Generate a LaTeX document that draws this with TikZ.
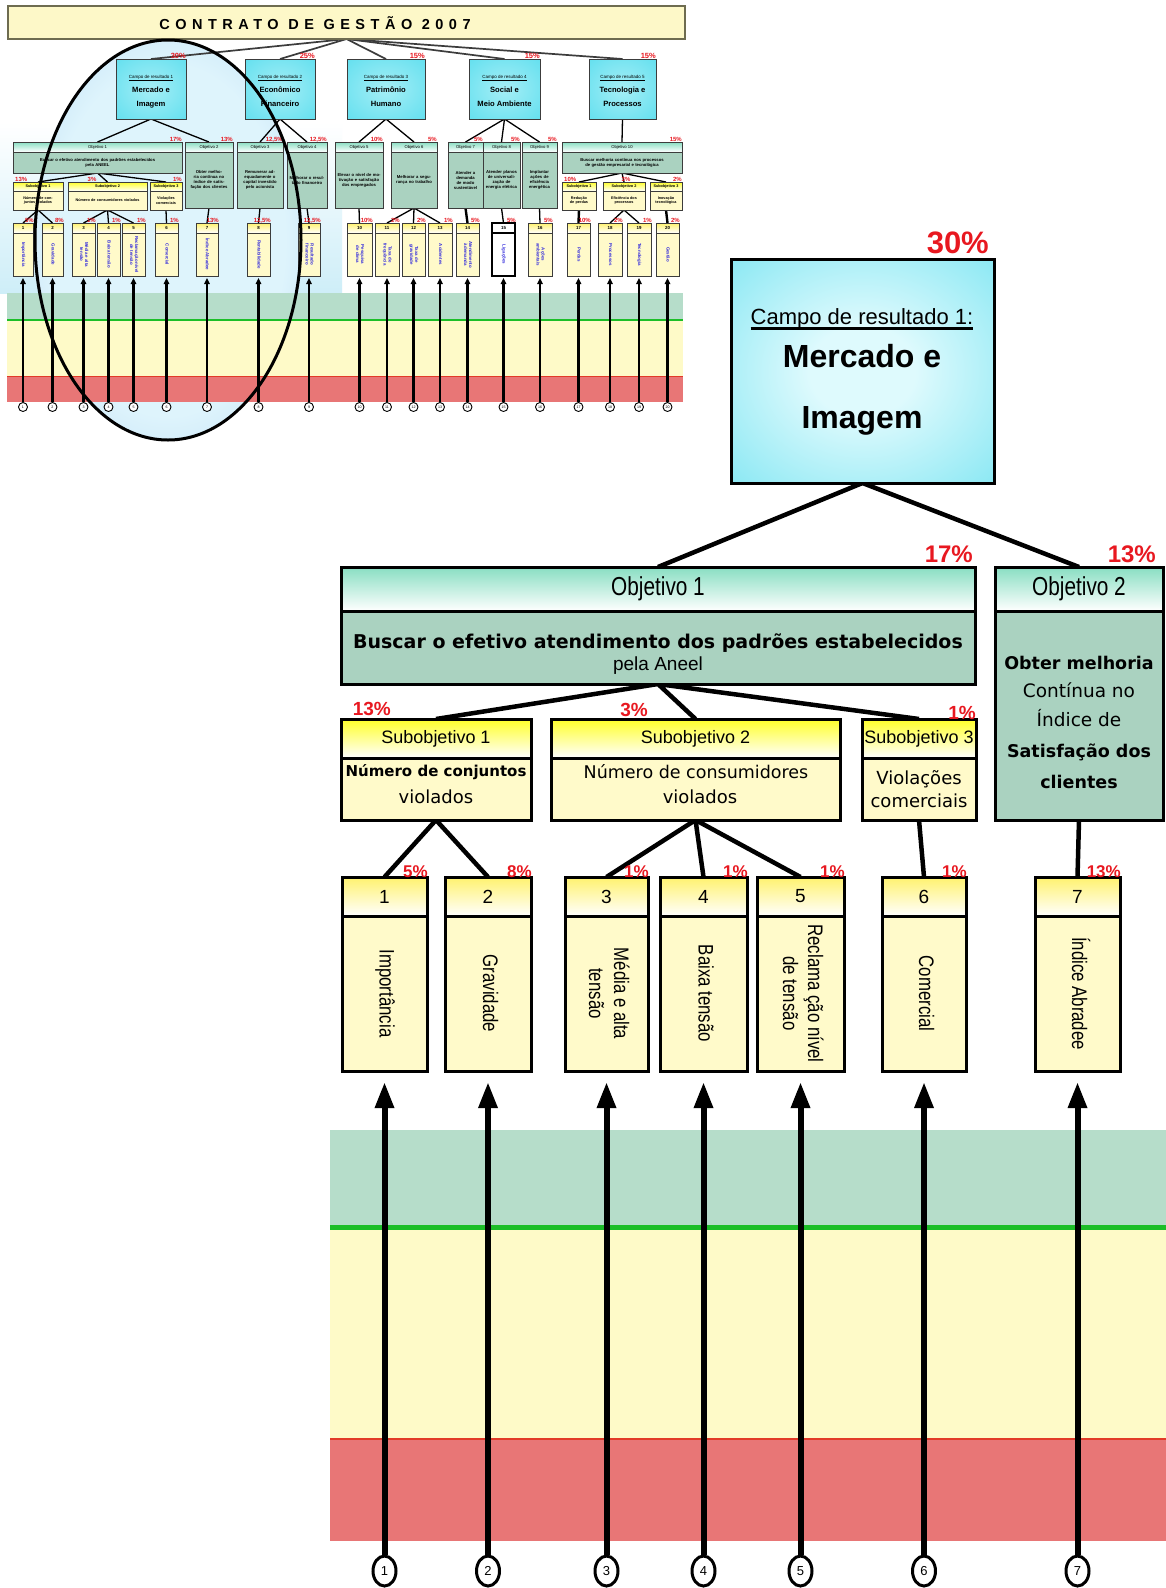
\documentclass[tikz,border=0pt]{standalone}
\usepackage{fontspec}
\setmainfont{Liberation Sans}
\newfontfamily\narf[FakeStretch=0.8]{Liberation Sans}
\newfontfamily\verf{DejaVu Sans}
\newfontfamily\spacef[LetterSpace=38]{Liberation Sans}
\usetikzlibrary{arrows.meta,shapes.geometric}

\newcommand\sz[2]{\fontsize{#1}{#2}\selectfont}

\definecolor{pctred}{RGB}{232,24,32}
\definecolor{cyanbox}{RGB}{92,222,238}
\definecolor{cyanpale}{RGB}{222,250,253}
\definecolor{cyanmid}{RGB}{165,238,246}
\definecolor{mint}{RGB}{136,222,194}
\definecolor{objbody}{RGB}{170,210,192}
\definecolor{subyel}{RGB}{255,255,40}
\definecolor{leafyel}{RGB}{255,242,110}
\definecolor{bodyyel}{RGB}{255,250,202}
\definecolor{bandgreen}{RGB}{182,221,202}
\definecolor{linegreen}{RGB}{28,190,40}
\definecolor{bandyel}{RGB}{254,250,200}
\definecolor{linered}{RGB}{226,58,40}
\definecolor{bandred}{RGB}{232,118,118}
\definecolor{titleyel}{RGB}{253,248,200}
\definecolor{titleframe}{RGB}{110,108,80}
\definecolor{ellblue}{RGB}{150,194,240}
\definecolor{ellpale}{RGB}{222,244,252}
\definecolor{skyback}{RGB}{206,238,248}
\definecolor{inkblue}{RGB}{48,40,220}
\definecolor{tframe}{RGB}{60,60,60}

\pgfdeclareradialshading{cyanglow}{\pgfpoint{0bp}{0bp}}{color(0bp)=(cyanpale); color(10bp)=(cyanpale); color(50bp)=(cyanbox); color(100bp)=(cyanbox)}
\pgfdeclareradialshading{cyansmall}{\pgfpoint{0bp}{0bp}}{color(0bp)=(cyanmid); color(40bp)=(cyanbox); color(100bp)=(cyanbox)}
\pgfdeclareradialshading{ellglow}{\pgfpoint{0bp}{0bp}}{color(0bp)=(ellpale); color(22bp)=(ellpale); color(50bp)=(ellblue); color(100bp)=(ellblue)}

\pgfdeclarelayer{backdrop}
\pgfdeclarelayer{wires}
\pgfdeclarelayer{front}
\pgfsetlayers{backdrop,wires,main,front}

% small overview chart: objective box (name, x0, x1, bottom, header, body, weight)
\newcommand\tobj[7]{%
  \pgfmathsetmacro\tbw{#3-#2}%
  \pgfmathsetmacro\tbh{#4-152}%
  \pgfmathsetmacro\tbt{#3-#2-3}%
  \node[tohead, minimum width=\tbw pt, anchor=north west] (#1h) at (#2,142) {#5};
  \node[tobody, minimum width=\tbw pt, minimum height=\tbh pt, text width=\tbt pt, anchor=north west] (#1b) at (#1h.south west) {#6};
  \node[tpct, anchor=base east] (#1p) at (#3,141) {#7};
}
% small overview chart: sub-objective box (name, x0, x1, header, body)
\newcommand\tsub[5]{%
  \pgfmathsetmacro\tbw{#3-#2}%
  \pgfmathsetmacro\tbt{#3-#2-2}%
  \node[tshead, minimum width=\tbw pt, anchor=north west] (#1h) at (#2,182) {#4};
  \node[tsbody, minimum width=\tbw pt, text width=\tbt pt, anchor=north west] (#1b) at (#1h.south west) {#5};
}
% small overview chart: indicator box (name, x0, x1, number, text, weight, extra style)
\newcommand\tleaf[7]{%
  \pgfmathsetmacro\tbw{#3-#2}%
  \node[tlhead, minimum width=\tbw pt, anchor=north west, #7] (#1h) at (#2,223) {#4};
  \node[tlbody, minimum width=\tbw pt, anchor=north west, #7] (#1b) at (#1h.south west) {\rotatebox{-90}{\begin{tabular}{@{}c@{}}#5\end{tabular}}};
  \node[tpct, anchor=base east] (#1p) at (#3+1,222) {#6};
}
% detailed chart: indicator box (name, x0, x1, number, text, weight)
\newcommand\mleaf[6]{%
  \pgfmathsetmacro\tbw{#3-#2}%
  \node[lhead, minimum width=\tbw pt, anchor=north west] (#1h) at (#2,877) {#4};
  \node[lbody, minimum width=\tbw pt, anchor=north west] (#1b) at (#1h.south west) {\rotatebox{-90}{\begin{tabular}{@{}c@{}}#5\end{tabular}}};
  \node[pct, anchor=base east, font=\bfseries\sz{17}{17}] (#1p) at (#3+1,877) {#6};
}

\begin{document}
\begin{tikzpicture}[x=1pt,y=-1pt,
  mframe/.style={draw=black, line width=3pt, inner sep=0pt, outer sep=0pt},
  ohead/.style={mframe, top color=mint, bottom color=white, minimum height=44pt, font=\narf\sz{26}{28}},
  obody/.style={mframe, fill=objbody},
  shead/.style={mframe, top color=subyel, bottom color=white, minimum height=39pt, font=\sz{18}{20}},
  sbody/.style={mframe, fill=bodyyel, minimum height=62pt},
  lhead/.style={mframe, top color=leafyel, bottom color=white, minimum height=39pt, font=\sz{19}{20}},
  lbody/.style={mframe, fill=bodyyel, minimum height=155pt, font=\narf\sz{21}{25}},
  pct/.style={text=pctred, inner sep=0pt},
  txt/.style={inner sep=0pt, anchor=base},
  conn/.style={line width=4.5pt},
  uparrow/.style={line width=6pt, -{Triangle[length=26pt,width=18pt]}, shorten >=11pt},
  circ/.style={ellipse, draw=black, line width=3pt, fill=white, minimum width=23pt, minimum height=30pt, inner sep=0pt, font=\sz{13}{13}},
  tbox/.style={draw=tframe, line width=0.8pt, inner sep=0pt, outer sep=0pt},
  tcampo/.style={tbox, shade, shading=cyansmall, minimum height=60pt},
  tohead/.style={tbox, top color=mint, bottom color=white, minimum height=10pt, font=\sz{4.2}{4.5}},
  tobody/.style={tbox, fill=objbody, align=center, font=\bfseries\sz{4.2}{5}},
  tshead/.style={tbox, top color=subyel, bottom color=white, minimum height=9pt, font=\bfseries\sz{3.8}{4}},
  tsbody/.style={tbox, fill=bodyyel, minimum height=19pt, align=center, font=\bfseries\sz{3.8}{4.6}},
  tlhead/.style={tbox, top color=leafyel, bottom color=white, minimum height=10pt, font=\bfseries\sz{4.4}{4.4}},
  tlbody/.style={tbox, fill=bodyyel, minimum height=43pt, text=inkblue, font=\bfseries\sz{4.4}{5}},
  tpct/.style={text=pctred, inner sep=0pt, font=\bfseries\sz{6}{6}},
  tconn/.style={line width=1.3pt, draw=black},
  tup/.style={line width=2.2pt, -{Triangle[length=6pt,width=5.5pt]}, shorten >=2pt},
  tcircle/.style={circle, draw=black, line width=0.9pt, fill=white, minimum size=9pt, inner sep=0pt, font=\sz{3.6}{4}},
]
\useasboundingbox (0,0) rectangle (1166,1588);

% ---------------- backgrounds and bands ----------------
\begin{pgfonlayer}{backdrop}
  \fill[white] (0,0) rectangle (1166,1588);
  \shade[top color=white, bottom color=skyback] (0,122) rectangle (342,293);
  \shade[shading=ellglow] (168,240) ellipse [x radius=133pt, y radius=200pt];
  % overview bands
  \fill[bandgreen] (7,293) rectangle (683,320);
  \fill[bandyel] (7,320) rectangle (683,376);
  \fill[bandred] (7,376) rectangle (683,402);
  \draw[linegreen, line width=1.5pt] (7,320) -- (683,320);
  \draw[linered, line width=0.8pt] (7,376) -- (683,376);
  % detailed bands
  \fill[bandgreen] (330,1130) rectangle (1166,1228);
  \fill[bandyel] (330,1228) rectangle (1166,1439);
  \fill[bandred] (330,1439) rectangle (1166,1541);
  \draw[linegreen, line width=5pt] (330,1227) -- (1166,1227);
  \draw[linered, line width=2.5pt] (330,1439) -- (1166,1439);
\end{pgfonlayer}

% ---------------- overview chart ----------------
\node[draw=titleframe, line width=1.4pt, fill=titleyel, minimum width=677pt, minimum height=33pt, inner sep=0pt, outer sep=0pt, anchor=north west] (ttl) at (8,6) {};
\node[inner sep=0pt, font=\spacef\bfseries\sz{14.5}{15}] (ttltxt) at (315,23) {CONTRATO DE GESTÃO 2007};

\foreach \n/\a/\b/\la/\lb/\p in {1/116/186/Mercado e/Imagem/30\%, 2/245/315/Econômico/Financeiro/25\%, 3/347/425/Patrimônio/Humano/15\%, 4/469/540/Social e/Meio Ambiente/15\%, 5/589/656/Tecnologia e/Processos/15\%}{
  \pgfmathsetmacro\tbw{\b-\a}
  \pgfmathsetmacro\cx{(\a+\b)/2}
  \node[tcampo, minimum width=\tbw pt, anchor=north west] (tc\n) at (\a,59) {};
  \node[inner sep=0pt, anchor=base, font=\sz{4.5}{5}] (tc\n a) at (\cx,78) {\underline{Campo de resultado \n}};
  \node[inner sep=0pt, anchor=base, font=\bfseries\sz{7.6}{8}] (tc\n b) at (\cx,92) {\la};
  \node[inner sep=0pt, anchor=base, font=\bfseries\sz{7.6}{8}] (tc\n c) at (\cx,106) {\lb};
  \node[tpct, anchor=base east, font=\bfseries\sz{7.5}{7.5}] (tc\n p) at (\b,58) {\p};
  \begin{pgfonlayer}{wires}\draw[tconn, line width=1.7pt, draw=tframe] (ttl.south) -- (tc\n.north);\end{pgfonlayer}
}

\tobj{to1}{13}{182}{173}{Objetivo 1}{Buscar o efetivo atendimento dos padrões estabelecidos\\pela ANEEL}{17\%}
\tobj{to2}{185}{233}{208}{Objetivo 2}{Obter melhoria contínua no índice de satisfação dos clientes}{13\%}
\tobj{to3}{237}{283}{208}{Objetivo 3}{Remunerar adequadamente o capital investido pelo acionista}{12,5\%}
\tobj{to4}{287}{327}{208}{Objetivo 4}{Melhorar o resultado financeiro}{12,5\%}
\tobj{to5}{335}{383}{208}{Objetivo 5}{Elevar o nível de motivação e satisfação dos empregados}{10\%}
\tobj{to6}{391}{437}{208}{Objetivo 6}{Melhorar a segurança no trabalho}{5\%}
\tobj{to7}{448}{483}{208}{Objetivo 7}{Atender a demanda de modo sustentável}{5\%}
\tobj{to8}{483}{520}{208}{Objetivo 8}{Atender planos de universali\-zação de energia elétrica}{5\%}
\tobj{to9}{522}{557}{208}{Objetivo 9}{Implantar ações de eficiência energética}{5\%}
\tobj{to10}{562}{682}{173}{Objetivo 10}{Buscar melhoria contínua nos processos\\de gestão empresarial e tecnológica}{15\%}

\tsub{ts1}{13}{63}{Subobjetivo 1}{Número de conjuntos violados}
\tsub{ts2}{68}{147}{Subobjetivo 2}{Número de consumidores violados}
\tsub{ts3}{150}{182}{Subobjetivo 3}{Violações comerciais}
\tsub{ts4}{562}{596}{Subobjetivo 1}{Redução de perdas}
\tsub{ts5}{603}{645}{Subobjetivo 2}{Eficiência dos processos}
\tsub{ts6}{650}{682}{Subobjetivo 3}{Inovação tecnológica}
\node[tpct, anchor=base west] (ts1p) at (15,181) {13\%};
\node[tpct, anchor=base] (ts2p) at (92,181) {3\%};
\node[tpct, anchor=base east] (ts3p) at (182,181) {1\%};
\node[tpct, anchor=base west] (ts4p) at (564,181) {10\%};
\node[tpct, anchor=base] (ts5p) at (626,181) {3\%};
\node[tpct, anchor=base east] (ts6p) at (682,181) {2\%};

\tleaf{tl1}{13}{33}{1}{Importância}{5\%}{}
\tleaf{tl2}{42}{63}{2}{Gravidade}{8\%}{}
\tleaf{tl3}{72}{95}{3}{Média e alta\\tensão}{1\%}{}
\tleaf{tl4}{97}{120}{4}{Baixa tensão}{1\%}{}
\tleaf{tl5}{122}{145}{5}{Reclamação nível\\de tensão}{1\%}{}
\tleaf{tl6}{155}{178}{6}{Comercial}{1\%}{}
\tleaf{tl7}{196}{218}{7}{Índice Abradee}{13\%}{}
\tleaf{tl8}{247}{270}{8}{Rentabilidade}{12,5\%}{}
\tleaf{tl9}{298}{320}{9}{Resultado\\financeiro}{12,5\%}{}
\tleaf{tl10}{347}{372}{10}{Pesquisa\\de clima}{10\%}{}
\tleaf{tl11}{375}{399}{11}{Taxa de\\frequência}{2\%}{}
\tleaf{tl12}{402}{425}{12}{Taxa de\\gravidade}{2\%}{}
\tleaf{tl13}{428}{452}{13}{Acidentes}{1\%}{}
\tleaf{tl14}{456}{479}{14}{Atendimento\\à demanda}{5\%}{}
\tleaf{tl15}{492}{515}{15}{Ligações}{5\%}{top color=white, bottom color=white, draw=black, line width=1.3pt}
\tleaf{tl16}{528}{552}{16}{Ações\\ambientais}{5\%}{}
\tleaf{tl17}{567}{590}{17}{Perdas}{10\%}{}
\tleaf{tl18}{598}{622}{18}{Processos}{2\%}{}
\tleaf{tl19}{627}{651}{19}{Tecnologia}{1\%}{}
\tleaf{tl20}{656}{679}{20}{Gestão}{2\%}{}

\coordinate (tky) at (0,407);
\foreach \n in {1,...,20}{
  \node[tcircle] (tk\n) at (tl\n b.south |- tky) {\n};
  \draw[tup] (tk\n) -- (tl\n b);
}

\begin{pgfonlayer}{wires}
  \draw[tconn] (tc1.south) -- (to1h.north) (tc1.south) -- (to2h.north);
  \draw[tconn] (tc2.south) -- (to3h.north) (tc2.south) -- (to4h.north);
  \draw[tconn] (tc3.south) -- (to5h.north) (tc3.south) -- (to6h.north);
  \draw[tconn] (tc4.south) -- (to7h.north) (tc4.south) -- (to8h.north) (tc4.south) -- (to9h.north);
  \draw[tconn] (tc5.south) -- (to10h.north);
  \draw[tconn] (to1b.south) -- (ts1h.north) (to1b.south) -- (ts2h.north) (to1b.south) -- (ts3h.north);
  \draw[tconn] (to10b.south) -- (ts4h.north) (to10b.south) -- (ts5h.north) (to10b.south) -- (ts6h.north);
  \draw[tconn] (ts1b.south) -- (tl1h.north) (ts1b.south) -- (tl2h.north);
  \draw[tconn] (ts2b.south) -- (tl3h.north) (ts2b.south) -- (tl4h.north) (ts2b.south) -- (tl5h.north);
  \draw[tconn] (ts3b.south) -- (tl6h.north);
  \draw[tconn] (to2b.south) -- (tl7h.north);
  \draw[tconn] (to3b.south) -- (tl8h.north);
  \draw[tconn] (to4b.south) -- (tl9h.north);
  \draw[tconn] (to5b.south) -- (tl10h.north);
  \draw[tconn] (to6b.south) -- (tl11h.north) (to6b.south) -- (tl12h.north) (to6b.south) -- (tl13h.north);
  \draw[tconn, line width=2.4pt] (to7b.south) -- (tl14h.north);
  \draw[tconn] (to8b.south) -- (tl15h.north);
  \draw[tconn] (to9b.south) -- (tl16h.north);
  \draw[tconn, line width=2.4pt] (ts4b.south) -- (tl17h.north);
  \draw[tconn] (ts5b.south) -- (tl18h.north) (ts5b.south) -- (tl19h.north);
  \draw[tconn, line width=2.4pt] (ts6b.south) -- (tl20h.north);
\end{pgfonlayer}

% highlight ring around the first result field
\begin{pgfonlayer}{front}
  \draw[line width=3pt] (168,240) ellipse [x radius=133pt, y radius=200pt];
\end{pgfonlayer}

% ---------------- detailed chart ----------------
\node[mframe, shade, shading=cyanglow, minimum width=263pt, minimum height=224pt, anchor=north west] (bb) at (731,259) {};
\node[txt, font=\sz{22}{24}] (bbcap) at (862,324) {Campo de resultado 1:};
\draw[line width=3pt] ([yshift=-4pt]bbcap.base west) -- ([yshift=-4pt]bbcap.base east);
\node[txt, font=\bfseries\sz{32}{34}] (bbl1) at (862,367) {Mercado e};
\node[txt, font=\bfseries\sz{32}{34}] (bbl2) at (862,428) {Imagem};
\node[pct, anchor=base east, font=\bfseries\sz{31}{31}] (bbp) at (989,253) {30\%};

\node[ohead, minimum width=634pt, anchor=north west] (o1h) at (341,567) {Objetivo 1};
\node[obody, minimum width=634pt, minimum height=73pt, anchor=north west] (o1b) at (o1h.south west) {};
\node[txt, font=\verf\bfseries\sz{19}{20}] (o1t1) at (658,648) {Buscar o efetivo atendimento dos padrões estabelecidos};
\node[txt, font=\sz{19}{20}] (o1t2) at (658,670) {pela Aneel};
\node[pct, anchor=base east, font=\bfseries\sz{24}{24}] (o1p) at (973,562) {17\%};

\node[ohead, minimum width=168pt, anchor=north west] (o2h) at (995,567) {Objetivo 2};
\node[obody, minimum width=168pt, minimum height=209pt, anchor=north west] (o2b) at (o2h.south west) {};
\node[txt, font=\verf\bfseries\sz{17.5}{18}] (o2t1) at (1079,669) {Obter melhoria};
\node[txt, font=\verf\sz{18.5}{19}] (o2t2) at (1079,697) {Contínua no};
\node[txt, font=\verf\sz{18.5}{19}] (o2t3) at (1079,726) {Índice de};
\node[txt, font=\verf\bfseries\sz{17.5}{18}] (o2t4) at (1079,757) {Satisfação dos};
\node[txt, font=\verf\bfseries\sz{17.5}{18}] (o2t5) at (1079,788) {clientes};
\node[pct, anchor=base east, font=\bfseries\sz{24}{24}] (o2p) at (1156,562) {13\%};

\node[shead, minimum width=190pt, anchor=north west] (s1h) at (341,719) {Subobjetivo 1};
\node[sbody, minimum width=190pt, anchor=north west] (s1b) at (s1h.south west) {};
\node[txt, font=\verf\bfseries\sz{15}{16}] (s1t1) at (436,776) {Número de conjuntos};
\node[txt, font=\verf\sz{18}{19}] (s1t2) at (436,803) {violados};
\node[pct, anchor=base east, font=\bfseries\sz{19}{19}] (s1p) at (391,715) {13\%};

\node[shead, minimum width=289pt, anchor=north west] (s2h) at (551,719) {Subobjetivo 2};
\node[sbody, minimum width=289pt, anchor=north west] (s2b) at (s2h.south west) {};
\node[txt, font=\verf\sz{17.5}{18}] (s2t1) at (696,778) {Número de consumidores};
\node[txt, font=\verf\sz{18}{19}] (s2t2) at (700,803) {violados};
\node[pct, anchor=base east, font=\bfseries\sz{19}{19}] (s2p) at (648,716) {3\%};

\node[shead, minimum width=114pt, anchor=north west] (s3h) at (862,719) {Subobjetivo 3};
\node[sbody, minimum width=114pt, anchor=north west] (s3b) at (s3h.south west) {};
\node[txt, font=\verf\sz{18}{19}] (s3t1) at (919,784) {Violações};
\node[txt, font=\verf\sz{18}{19}] (s3t2) at (919,807) {comerciais};
\node[pct, anchor=base east, font=\bfseries\sz{19}{19}] (s3p) at (976,719) {1\%};

\mleaf{l1}{342}{427}{1}{Importância}{5\%}
\mleaf{l2}{445}{531}{2}{Gravidade}{8\%}
\mleaf{l3}{565}{648}{3}{Média e alta\\tensão}{1\%}
\mleaf{l4}{660}{747}{4}{Baixa tensão}{1\%}
\mleaf{l5}{757}{844}{5}{Reclama ção nível\\de tensão}{1\%}
\mleaf{l6}{882}{966}{6}{Comercial}{1\%}
\mleaf{l7}{1035}{1120}{7}{Índice Abradee}{13\%}

\begin{pgfonlayer}{wires}
  \draw[conn] (bb.south) -- (o1h.north) (bb.south) -- (o2h.north);
  \draw[conn] (o1b.south) -- (s1h.north) (o1b.south) -- (s2h.north) (o1b.south) -- (s3h.north);
  \draw[conn] (s1b.south) -- (l1h.north) (s1b.south) -- (l2h.north);
  \draw[conn] (s2b.south) -- (l3h.north) (s2b.south) -- (l4h.north) (s2b.south) -- (l5h.north);
  \draw[conn] (s3b.south) -- (l6h.north);
  \draw[conn] (o2b.south) -- (l7h.north);
\end{pgfonlayer}

\coordinate (cky) at (0,1571);
\foreach \n in {1,...,7}{
  \node[circ] (c\n) at (l\n b.south |- cky) {\n};
  \draw[uparrow] (c\n) -- (l\n b);
}
\end{tikzpicture}
\end{document}
